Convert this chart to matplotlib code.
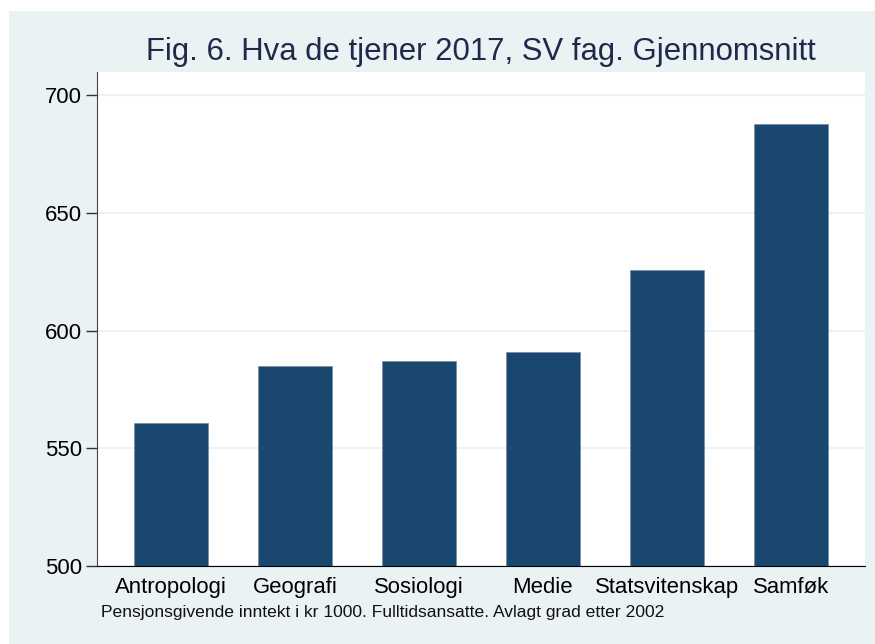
import matplotlib
matplotlib.use("Agg")
import matplotlib.pyplot as plt
from matplotlib.patches import Rectangle

# fag og gjennomsnittlig inntekt (kr 1000)
fag = ["Antropologi", "Geografi", "Sosiologi", "Medie", "Statsvitenskap", "Samføk"]
inntekt = [560.7, 584.9, 587.0, 590.9, 625.7, 687.7]
yticks = [500, 550, 600, 650, 700]

plt.rcParams['font.family'] = ['Liberation Sans', 'DejaVu Sans']

W, H = 875, 644
fig = plt.figure(figsize=(W / 100, H / 100), dpi=100, facecolor="white")
# lys bakgrunn, som i Stata
fig.patches.append(Rectangle((9 / W, 0), 1 - 9 / W, 1 - 11 / H, transform=fig.transFigure,
                             facecolor="#eaf2f3", edgecolor="none", zorder=-5))

ax = fig.add_axes([97 / W, (H - 566) / H, (865 - 97) / W, (566 - 72) / H])
ax.set_facecolor("white")

x = list(range(len(fag)))
ax.bar(x, inntekt, width=0.6, color="#1a476f", edgecolor="#7a90a8", linewidth=0.6, zorder=3)

ax.set_xlim(-0.6, 5.6)
ax.set_ylim(500, 709.8)
ax.set_yticks(yticks)
ax.set_xticks(x)
ax.set_xticklabels(fag, fontsize=15.9)
ax.tick_params(axis="x", length=0, pad=8)
ax.tick_params(axis="y", labelsize=15.9, length=8, width=1, color="#333333", pad=3)
ax.grid(axis="y", color="#eaf2f3", linewidth=1.5, zorder=0)

for s in ["top", "right"]:
    ax.spines[s].set_visible(False)
ax.spines["left"].set_color("#444444")
ax.spines["bottom"].set_color("black")
ax.spines["bottom"].set_zorder(4)

fig.text(481 / W, 1 - 52 / H, "Fig. 6. Hva de tjener 2017, SV fag. Gjennomsnitt",
         ha="center", va="center", fontsize=22.4, color="#1e2a4a")
fig.text(101 / W, 1 - 613 / H,
         "Pensjonsgivende inntekt i kr 1000. Fulltidsansatte. Avlagt grad etter 2002",
         ha="left", va="center", fontsize=12.6, color="#111111")

fig.savefig("out.png", dpi=100, facecolor=fig.get_facecolor())
